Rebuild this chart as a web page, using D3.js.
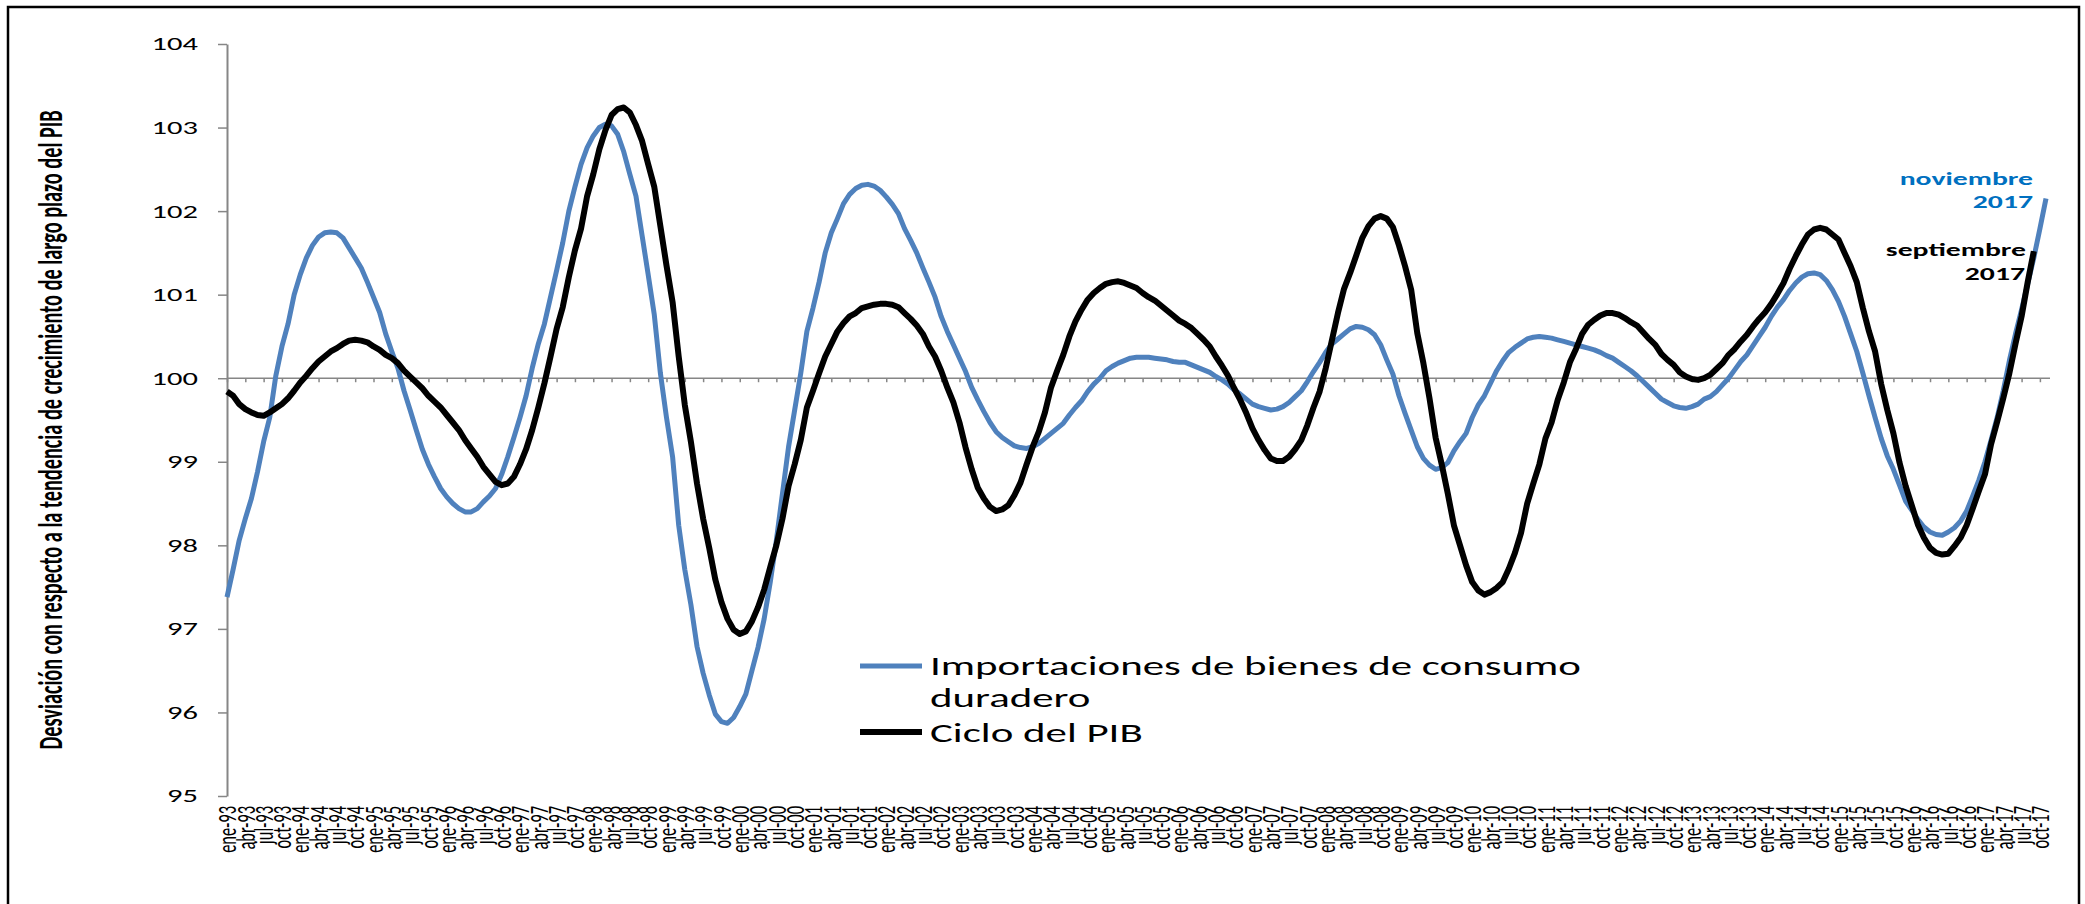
<!DOCTYPE html>
<html><head><meta charset="utf-8">
<script src="https://cdn.jsdelivr.net/npm/d3@7"></script>
<style>html,body{margin:0;padding:0;background:#fff;} svg{display:block}</style>
</head><body><svg id="chart" width="2085" height="904"></svg>
<script>
// ---- data ----
const monthNames = ["ene","feb","mar","abr","may","jun","jul","ago","sep","oct","nov","dic"];
const years = ["93","94","95","96","97","98","99","00","01","02","03","04","05","06","07","08","09","10","11","12","13","14","15","16","17"];
const yTicks = [95,96,97,98,99,100,101,102,103,104];

// Importaciones de bienes de consumo duradero, ene-93 .. nov-17
const importaciones = [
 97.38,97.71,98.06,98.32,98.56,98.88,99.24,99.53,100.03,100.38,100.65,101.0,
 101.24,101.44,101.59,101.69,101.74,101.75,101.74,101.68,101.56,101.44,101.32,101.15,
 100.97,100.79,100.53,100.32,100.12,99.85,99.62,99.38,99.15,98.97,98.82,98.68,
 98.58,98.5,98.44,98.4,98.4,98.44,98.52,98.59,98.68,98.85,99.06,99.29,
 99.53,99.79,100.12,100.41,100.65,100.97,101.29,101.62,102.0,102.29,102.56,102.76,
 102.9,103.0,103.04,103.02,102.92,102.71,102.44,102.18,101.71,101.24,100.76,100.06,
 99.53,99.06,98.24,97.71,97.29,96.79,96.47,96.21,95.98,95.89,95.87,95.94,
 96.07,96.22,96.5,96.78,97.12,97.56,98.06,98.62,99.18,99.62,100.06,100.56,
 100.84,101.15,101.5,101.74,101.91,102.09,102.2,102.27,102.31,102.32,102.3,102.25,
 102.17,102.08,101.97,101.79,101.65,101.5,101.32,101.15,100.97,100.74,100.56,100.4,
 100.24,100.08,99.89,99.74,99.6,99.47,99.36,99.29,99.24,99.19,99.17,99.16,
 99.18,99.22,99.28,99.34,99.4,99.46,99.56,99.65,99.73,99.84,99.93,100.0,
 100.09,100.14,100.18,100.21,100.24,100.25,100.25,100.25,100.24,100.23,100.22,100.2,
 100.19,100.19,100.16,100.13,100.1,100.07,100.02,99.98,99.93,99.86,99.81,99.75,
 99.69,99.66,99.64,99.62,99.63,99.66,99.71,99.78,99.85,99.96,100.08,100.19,
 100.31,100.41,100.47,100.53,100.59,100.62,100.61,100.58,100.52,100.4,100.22,100.05,
 99.79,99.58,99.38,99.18,99.04,98.96,98.91,98.93,98.99,99.13,99.24,99.34,
 99.53,99.68,99.79,99.94,100.09,100.21,100.31,100.37,100.42,100.47,100.49,100.5,
 100.49,100.48,100.46,100.44,100.42,100.4,100.38,100.36,100.34,100.31,100.27,100.24,
 100.19,100.14,100.09,100.03,99.96,99.89,99.82,99.75,99.71,99.67,99.65,99.64,
 99.66,99.69,99.75,99.78,99.84,99.92,100.0,100.1,100.2,100.28,100.39,100.5,
 100.61,100.74,100.85,100.94,101.05,101.14,101.21,101.25,101.26,101.24,101.17,101.06,
 100.92,100.74,100.53,100.32,100.06,99.79,99.53,99.28,99.07,98.91,98.72,98.53,
 98.42,98.31,98.22,98.16,98.13,98.12,98.16,98.21,98.29,98.41,98.59,98.78,
 99.0,99.26,99.53,99.85,100.21,100.53,100.82,101.13,101.44,101.79,102.15
];

// Ciclo del PIB, ene-93 .. sep-17
const cicloPIB = [
 99.84,99.79,99.69,99.63,99.59,99.56,99.55,99.59,99.64,99.69,99.76,99.85,
 99.95,100.03,100.12,100.2,100.26,100.32,100.36,100.41,100.45,100.46,100.45,100.43,
 100.38,100.34,100.28,100.24,100.18,100.09,100.02,99.95,99.88,99.79,99.72,99.65,
 99.56,99.47,99.38,99.26,99.16,99.06,98.94,98.85,98.76,98.72,98.74,98.82,
 98.97,99.15,99.38,99.65,99.94,100.26,100.59,100.85,101.21,101.53,101.79,102.18,
 102.44,102.74,102.97,103.15,103.22,103.24,103.18,103.03,102.84,102.56,102.29,101.82,
 101.35,100.91,100.26,99.68,99.24,98.74,98.32,97.97,97.59,97.32,97.12,96.99,
 96.94,96.97,97.09,97.26,97.47,97.74,98.0,98.32,98.71,98.97,99.26,99.65,
 99.85,100.06,100.26,100.41,100.56,100.66,100.74,100.78,100.84,100.86,100.88,100.89,
 100.89,100.88,100.85,100.78,100.71,100.63,100.53,100.38,100.26,100.09,99.89,99.71,
 99.47,99.17,98.91,98.69,98.56,98.46,98.41,98.43,98.48,98.6,98.75,98.97,
 99.18,99.36,99.59,99.89,100.09,100.28,100.5,100.68,100.82,100.94,101.02,101.08,
 101.13,101.15,101.16,101.14,101.11,101.08,101.02,100.97,100.93,100.87,100.81,100.75,
 100.69,100.65,100.6,100.53,100.46,100.38,100.26,100.15,100.03,99.88,99.74,99.58,
 99.4,99.26,99.14,99.04,99.01,99.01,99.06,99.15,99.26,99.44,99.65,99.84,
 100.12,100.45,100.78,101.07,101.26,101.47,101.68,101.82,101.91,101.94,101.91,101.81,
 101.59,101.34,101.06,100.54,100.18,99.76,99.29,98.97,98.62,98.24,98.0,97.76,
 97.56,97.46,97.41,97.44,97.49,97.56,97.72,97.91,98.15,98.5,98.74,98.97,
 99.28,99.47,99.74,99.95,100.19,100.35,100.53,100.64,100.7,100.75,100.78,100.78,
 100.76,100.72,100.67,100.63,100.55,100.47,100.4,100.29,100.22,100.16,100.07,100.02,
 99.99,99.98,100.0,100.04,100.11,100.18,100.28,100.35,100.44,100.52,100.62,100.71,
 100.79,100.89,101.01,101.14,101.31,101.46,101.6,101.72,101.78,101.8,101.78,101.72,
 101.66,101.5,101.34,101.15,100.84,100.56,100.32,99.93,99.62,99.34,98.99,98.71,
 98.48,98.25,98.09,97.97,97.91,97.89,97.9,97.99,98.09,98.24,98.44,98.65,
 98.85,99.21,99.48,99.76,100.06,100.41,100.74,101.15,101.52
];

const legendLabels = [["Importaciones de bienes de consumo","duradero"],["Ciclo del PIB"]];
const annotBlue = ["noviembre","2017"];
const annotBlack = ["septiembre","2017"];
const yTitle = "Desviación con respecto a la tendencia de crecimiento de largo plazo del PIB";

// categories
const categories = [];
years.forEach(yy => monthNames.forEach(m => categories.push(m + "-" + yy)));
const cats = categories.slice(0, importaciones.length);
const tickCats = cats.filter((c, i) => i % 3 === 0);

// ---- layout ----
const S = 1.65;                 // horizontal stretch of the original picture
const FONT = "Carlito, Calibri, Lato, sans-serif";
const BLUE = "#4F81BD", AXIS = "#868686";
const svg = d3.select("#chart");
const x0 = 227, x1 = 2046;
const x = d3.scalePoint().domain(cats).range([x0, x1]);
const y = d3.scaleLinear().domain([95, 104]).range([796, 44]);

// border
svg.append("rect").attr("x", 8).attr("y", 7).attr("width", 2071).attr("height", 940)
  .attr("fill", "none").attr("stroke", "#000").attr("stroke-width", 2.5);

// y axis
const gy = svg.append("g").attr("transform", `translate(${x0},0)`)
  .call(d3.axisLeft(y).tickValues(yTicks).tickSize(9).tickSizeOuter(0).tickFormat(d3.format("d")));
gy.select(".domain").attr("stroke", AXIS).attr("stroke-width", 2);
gy.selectAll(".tick line").attr("stroke", AXIS).attr("stroke-width", 1.5);
gy.selectAll(".tick text").attr("x", -29 / S).attr("transform", `scale(${S},1)`)
  .style("font-family", FONT).style("font-size", "18.5px").attr("fill", "#000");

// x axis line at 100 with ticks
const gx = svg.append("g").attr("transform", `translate(0,${y(100)})`)
  .call(d3.axisBottom(x).tickValues(tickCats).tickSize(4).tickSizeOuter(0).tickFormat(""));
gx.select(".domain").remove();
gx.selectAll(".tick line").attr("stroke", AXIS).attr("stroke-width", 1.5);
gx.append("line").attr("x1", x0).attr("x2", x1 + 4).attr("y1", 0).attr("y2", 0)
  .attr("stroke", AXIS).attr("stroke-width", 1.5);

// x labels (low position)
const gl = svg.append("g").attr("transform", `translate(0,806)`)
  .call(d3.axisBottom(x).tickValues(tickCats).tickSize(0));
gl.select(".domain").remove();
gl.selectAll(".tick text").attr("x", 0).attr("y", 0).attr("dy", "0.32em")
  .attr("transform", `scale(${S},1) rotate(-90)`).style("text-anchor", "end")
  .style("font-family", FONT).style("font-size", "16.5px").attr("fill", "#000");

// series lines
const line = d3.line().x((d, i) => x(cats[i])).y(d => y(d));
svg.append("path").datum(importaciones).attr("d", line).attr("fill", "none")
  .attr("stroke", BLUE).attr("stroke-width", 5).attr("stroke-linejoin", "round");
svg.append("path").datum(cicloPIB).attr("d", line).attr("fill", "none")
  .attr("stroke", "#000").attr("stroke-width", 6).attr("stroke-linejoin", "round");

// helper for stretched text
function stext(tx, ty, str, opts) {
  return svg.append("text")
    .attr("transform", `translate(${tx},${ty}) scale(${S},1)` + (opts.rotate ? " rotate(-90)" : ""))
    .attr("dy", opts.dy || 0)
    .style("font-family", FONT).style("font-size", opts.size + "px")
    .style("font-weight", opts.bold ? "bold" : "normal")
    .style("text-anchor", opts.anchor || "start")
    .attr("fill", opts.color || "#000").text(str);
}

// legend
svg.append("line").attr("x1", 860).attr("x2", 922).attr("y1", 666).attr("y2", 666)
  .attr("stroke", BLUE).attr("stroke-width", 5);
svg.append("line").attr("x1", 860).attr("x2", 922).attr("y1", 732).attr("y2", 732)
  .attr("stroke", "#000").attr("stroke-width", 6);
stext(930, 675, legendLabels[0][0], {size: 26});
stext(930, 707, legendLabels[0][1], {size: 26});
stext(930, 742, legendLabels[1][0], {size: 26});

// annotations
stext(2033, 185, annotBlue[0], {size: 18, bold: true, anchor: "end", color: "#0070C0"});
stext(2033, 208, annotBlue[1], {size: 18, bold: true, anchor: "end", color: "#0070C0"});
stext(2026, 256, annotBlack[0], {size: 18, bold: true, anchor: "end"});
stext(2025, 280, annotBlack[1], {size: 18, bold: true, anchor: "end"});

// y title
stext(50, 430, yTitle, {size: 20.3, bold: true, anchor: "middle", rotate: true, dy: "0.35em"});
</script></body></html>
